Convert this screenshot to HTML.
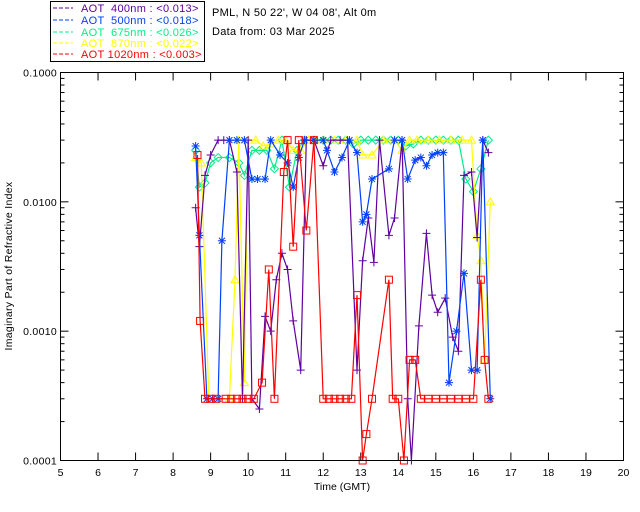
<!DOCTYPE html>
<html><head><meta charset="utf-8"><style>
body{margin:0;background:#fff;}
svg{display:block;font-family:"Liberation Sans",sans-serif;}
</style></head><body>
<svg id="chart" width="640" height="512" viewBox="0 0 640 512" xmlns="http://www.w3.org/2000/svg">
<rect width="640" height="512" fill="#fff"/>
<g>
<rect x="50.5" y="1.5" width="154" height="60" fill="#fff" stroke="#000"/>
<g font-size="11" letter-spacing="0.3">
<line x1="53" y1="8" x2="73" y2="8" stroke="#6000a0" stroke-dasharray="4,2"/><text x="81" y="12" fill="#6000a0" xml:space="preserve">AOT  400nm : &lt;0.013&gt;</text>
<line x1="53" y1="20" x2="73" y2="20" stroke="#0040ff" stroke-dasharray="4,2"/><text x="81" y="24" fill="#0040ff" xml:space="preserve">AOT  500nm : &lt;0.018&gt;</text>
<line x1="53" y1="32" x2="73" y2="32" stroke="#00ee88" stroke-dasharray="4,2"/><text x="81" y="36" fill="#00ee88" xml:space="preserve">AOT  675nm : &lt;0.026&gt;</text>
<line x1="53" y1="43" x2="73" y2="43" stroke="#ffff00" stroke-dasharray="4,2"/><text x="81" y="47" fill="#ffff00" xml:space="preserve">AOT  870nm : &lt;0.022&gt;</text>
<line x1="53" y1="54" x2="73" y2="54" stroke="#ff0000" stroke-dasharray="4,2"/><text x="81" y="58" fill="#ff0000" xml:space="preserve">AOT 1020nm : &lt;0.003&gt;</text>
</g></g>
<text x="212" y="16" font-size="11" letter-spacing="0.3">PML, N 50 22', W 04 08', Alt 0m</text>
<text x="212" y="35" font-size="11" letter-spacing="0.3">Data from: 03 Mar 2025</text>
<text transform="translate(12,266) rotate(-90)" text-anchor="middle" font-size="10.5" letter-spacing="0.3">Imaginary Part of Refractive Index</text>
<text x="342" y="490" text-anchor="middle" font-size="10.5">Time (GMT)</text>
<g id="axes"></g>
<g id="series"></g>
<rect x="60.5" y="72.5" width="563" height="388" fill="none" stroke="#000"/>
</svg>
<script>
const xTicks=[5,6,7,8,9,10,11,12,13,14,15,16,17,18,19,20];
const yTicks=[0.1,0.01,0.001,0.0001];
const yTickLabels=["0.1000","0.0100","0.0010","0.0001"];
const t400=[8.6,8.7,8.85,9.0,9.2,9.35,9.5,9.7,9.85,10.0,10.1,10.3,10.45,10.6,10.75,10.9,11.05,11.2,11.4,11.55,11.75,12.0,12.2,12.45,12.65,12.9,13.05,13.2,13.35,13.5,13.75,13.9,14.1,14.25,14.35,14.55,14.75,14.9,15.05,15.25,15.45,15.6,15.75,15.95,16.1,16.25,16.4];
const v400=[0.009,0.0045,0.016,0.023,0.03,0.03,0.03,0.017,0.0003,0.03,0.0003,0.00025,0.0013,0.001,0.0025,0.004,0.003,0.0012,0.0005,0.03,0.03,0.019,0.03,0.03,0.03,0.0005,0.0035,0.0075,0.0034,0.03,0.0055,0.0075,0.03,0.0003,0.0001,0.0011,0.0057,0.0019,0.0014,0.0018,0.0009,0.0007,0.016,0.017,0.0053,0.03,0.024];
const t500=[8.6,8.7,8.9,9.05,9.2,9.3,9.5,9.7,9.9,10.1,10.25,10.45,10.6,10.85,11.05,11.2,11.35,11.5,11.75,12.0,12.1,12.3,12.5,12.7,12.9,13.05,13.15,13.3,13.75,13.9,14.1,14.25,14.45,14.6,14.75,14.9,15.05,15.2,15.35,15.55,15.75,15.95,16.1,16.25,16.45];
const v500=[0.027,0.0055,0.0003,0.0003,0.0003,0.005,0.03,0.03,0.03,0.015,0.015,0.015,0.03,0.023,0.02,0.013,0.022,0.03,0.03,0.03,0.025,0.017,0.022,0.03,0.024,0.007,0.008,0.015,0.018,0.03,0.03,0.015,0.021,0.022,0.019,0.023,0.024,0.024,0.0004,0.001,0.0028,0.0005,0.0005,0.03,0.0003];
const t675=[8.6,8.7,8.85,9.0,9.2,9.5,9.75,9.9,10.1,10.3,10.5,10.7,10.9,11.1,11.3,11.5,11.75,12.0,12.2,12.4,12.6,12.8,13.0,13.2,13.4,13.6,13.8,14.0,14.2,14.4,14.6,14.8,15.0,15.2,15.4,15.6,15.8,16.0,16.2,16.4];
const v675=[0.025,0.013,0.014,0.02,0.022,0.022,0.02,0.016,0.025,0.025,0.025,0.018,0.03,0.013,0.025,0.03,0.03,0.03,0.03,0.03,0.03,0.028,0.03,0.03,0.03,0.03,0.03,0.03,0.027,0.028,0.03,0.03,0.03,0.03,0.03,0.03,0.015,0.012,0.018,0.03];
const t870=[8.6,8.75,8.95,9.2,9.5,9.65,9.75,9.9,10.0,10.2,10.4,10.6,10.8,11.0,11.2,11.4,11.6,11.8,12.0,12.3,12.6,12.9,13.05,13.3,13.6,13.9,14.1,14.3,14.5,14.8,15.1,15.4,15.7,15.95,16.1,16.2,16.3,16.45];
const v870=[0.022,0.02,0.0003,0.0003,0.0003,0.0025,0.03,0.0004,0.03,0.03,0.027,0.028,0.03,0.03,0.025,0.025,0.03,0.03,0.03,0.03,0.03,0.03,0.023,0.023,0.03,0.03,0.025,0.03,0.03,0.03,0.03,0.03,0.03,0.03,0.0055,0.0035,0.0006,0.01];
const t1020=[8.65,8.72,8.85,9.0,9.15,9.4,9.55,9.7,9.85,10.0,10.15,10.37,10.55,10.7,10.95,11.05,11.2,11.35,11.55,11.75,12.0,12.15,12.3,12.45,12.6,12.75,12.9,13.05,13.15,13.3,13.75,13.85,14.0,14.15,14.3,14.45,14.6,14.8,15.0,15.2,15.4,15.6,15.8,16.0,16.2,16.3,16.4];
const v1020=[0.023,0.0012,0.0003,0.0003,0.0003,0.0003,0.0003,0.0003,0.0003,0.0003,0.0003,0.0004,0.003,0.0003,0.017,0.03,0.0045,0.03,0.006,0.03,0.0003,0.0003,0.0003,0.0003,0.0003,0.0003,0.0019,0.0001,0.00016,0.0003,0.0025,0.0003,0.0003,0.0001,0.0006,0.0006,0.0003,0.0003,0.0003,0.0003,0.0003,0.0003,0.0003,0.0003,0.0025,0.0006,0.0003];

const NS="http://www.w3.org/2000/svg";
const X0=60.5,X1=623.5,Y0=72.5,Y1=460.5;
function xs(h){return X0+(h-5)/15*(X1-X0);}
function ys(v){return Y0+(-1-Math.log10(v))/3*(Y1-Y0);}
function mk(tag,attrs,parent){const e=document.createElementNS(NS,tag);for(const k in attrs)e.setAttribute(k,attrs[k]);parent.appendChild(e);return e;}
const axes=document.getElementById('axes');
xTicks.forEach(t=>{
  const x=xs(t);
  mk('line',{x1:x,y1:Y1,x2:x,y2:Y1-8,stroke:'#000'},axes);
  mk('line',{x1:x,y1:Y0,x2:x,y2:Y0+8,stroke:'#000'},axes);
  const tx=mk('text',{x:x,y:476,'text-anchor':'middle','font-size':'10.5'},axes);
  tx.textContent=t;
  
  
});
yTicks.forEach((v,i)=>{
  const y=ys(v);
  mk('line',{x1:X0,y1:y,x2:X0+8,y2:y,stroke:'#000'},axes);
  mk('line',{x1:X1,y1:y,x2:X1-8,y2:y,stroke:'#000'},axes);
  const tx=mk('text',{x:57,y:y+4,'text-anchor':'end','font-size':'10.5','letter-spacing':'0.3'},axes);
  tx.textContent=yTickLabels[i];
  
  
  if(i<yTicks.length-1){for(let m=2;m<10;m++){const yy=ys(v/10*m);
    mk('line',{x1:X0,y1:yy,x2:X0+4,y2:yy,stroke:'#000'},axes);
    mk('line',{x1:X1,y1:yy,x2:X1-4,y2:yy,stroke:'#000'},axes);}}
});
const ser=document.getElementById('series');
function marker(g,type,x,y,c){
  if(type==='plus'){mk('path',{d:`M${x-4} ${y}h8M${x} ${y-4}v8`,stroke:c,fill:'none'},g);}
  else if(type==='star'){mk('path',{d:`M${x-4} ${y}h8M${x} ${y-4}v8M${x-3} ${y-3}l6 6M${x-3} ${y+3}l6 -6`,stroke:c,fill:'none'},g);}
  else if(type==='diamond'){mk('path',{d:`M${x} ${y-4}l4 4l-4 4l-4 -4z`,stroke:c,fill:'none'},g);}
  else if(type==='tri'){mk('path',{d:`M${x} ${y-4}l4 7h-8z`,stroke:c,fill:'none'},g);}
  else {mk('rect',{x:x-3.5,y:y-3.5,width:7,height:7,stroke:c,fill:'none'},g);}
}
function drawSeries(name,t,v,c,type){
  const g=mk('g',{},ser);
  
  
  const d=t.map((h,i)=>(i?'L':'M')+xs(h).toFixed(1)+' '+ys(v[i]).toFixed(1)).join('');
  const p=mk('path',{d:d,stroke:c,fill:'none','stroke-width':1.2},g);
  
  
  t.forEach((h,i)=>marker(g,type,xs(h),ys(v[i]),c));
}
drawSeries('series-675nm',t675,v675,'#00ee88','diamond');
drawSeries('series-870nm',t870,v870,'#ffff00','tri');
drawSeries('series-400nm',t400,v400,'#6000a0','plus');
drawSeries('series-500nm',t500,v500,'#0040ff','star');
drawSeries('series-1020nm',t1020,v1020,'#ff0000','square');
</script>
</body></html>
